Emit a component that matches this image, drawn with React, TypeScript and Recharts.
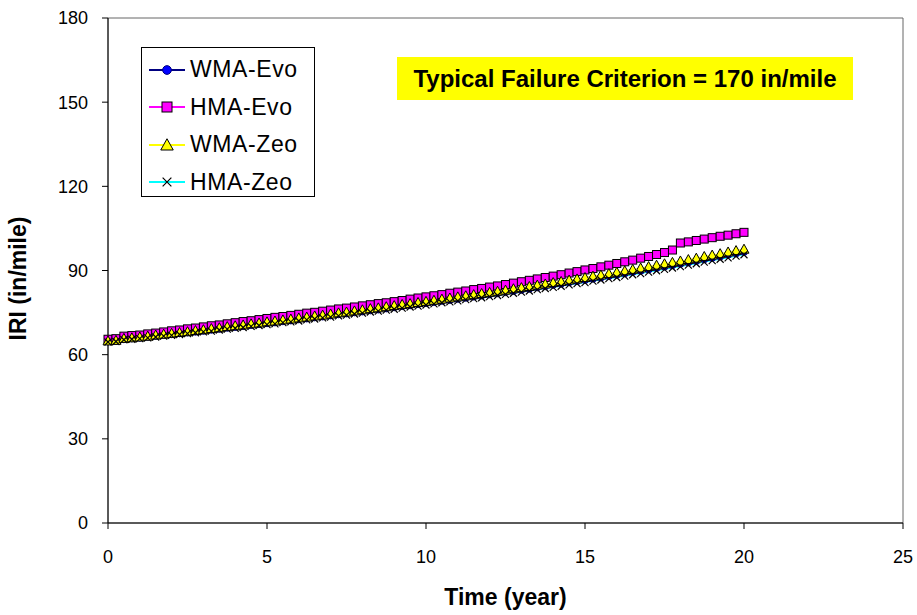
import React from 'react';
import { LineChart, Line, XAxis, YAxis, ReferenceArea } from 'recharts';

// quarter-year steps, 0 to 20 years
const time = Array.from({ length: 81 }, (_, i) => i * 0.25);

const wmaEvo = [
  64.7, 64.9, 65.5, 65.8, 66.0, 66.3, 66.7, 67.0, 67.3, 67.6, 67.9, 68.2,
  68.5, 68.9, 69.2, 69.6, 69.9, 70.2, 70.6, 70.9, 71.2, 71.5, 71.9, 72.2,
  72.6, 72.9, 73.3, 73.6, 74.0, 74.4, 74.7, 75.1, 75.4, 75.8, 76.1, 76.5,
  76.9, 77.3, 77.6, 78.0, 78.4, 78.8, 79.2, 79.5, 79.9, 80.3, 80.7, 81.1,
  81.5, 81.9, 82.3, 82.7, 83.1, 83.5, 84.0, 84.4, 84.9, 85.3, 85.8, 86.2,
  86.6, 87.1, 87.5, 88.0, 88.5, 89.0, 89.5, 89.9, 90.4, 90.9, 91.4, 91.9,
  92.4, 92.9, 93.4, 94.0, 94.5, 95.0, 95.6, 96.1, 96.6,
];

const hmaEvo = [
  65.5, 65.7, 66.6, 66.8, 67.0, 67.4, 67.7, 68.1, 68.5, 68.8, 69.2, 69.5,
  69.9, 70.3, 70.6, 71.0, 71.4, 71.8, 72.1, 72.5, 72.9, 73.3, 73.6, 74.0,
  74.4, 74.8, 75.1, 75.5, 75.9, 76.3, 76.6, 77.0, 77.4, 77.8, 78.2, 78.5,
  78.9, 79.3, 79.8, 80.2, 80.6, 81.0, 81.4, 81.9, 82.3, 82.7, 83.2, 83.6,
  84.1, 84.5, 85.0, 85.5, 86.0, 86.5, 87.0, 87.5, 88.0, 88.5, 89.1, 89.6,
  90.2, 90.7, 91.3, 91.9, 92.5, 93.1, 93.7, 94.4, 95.0, 95.7, 96.4, 97.3,
  99.8, 100.2, 100.7, 101.2, 101.7, 102.2, 102.6, 103.1, 103.6,
];

const wmaZeo = [
  64.9, 65.1, 65.8, 66.0, 66.3, 66.6, 67.0, 67.3, 67.6, 67.9, 68.2, 68.6,
  68.9, 69.3, 69.6, 70.0, 70.3, 70.6, 71.0, 71.3, 71.7, 72.0, 72.4, 72.7,
  73.1, 73.4, 73.8, 74.1, 74.5, 74.9, 75.2, 75.6, 76.0, 76.4, 76.7, 77.1,
  77.5, 77.9, 78.2, 78.6, 79.0, 79.4, 79.8, 80.2, 80.6, 81.0, 81.4, 81.8,
  82.2, 82.6, 83.0, 83.5, 83.9, 84.3, 84.8, 85.2, 85.7, 86.1, 86.6, 87.0,
  87.5, 88.0, 88.4, 88.9, 89.4, 89.9, 90.4, 90.9, 91.4, 91.9, 92.4, 92.9,
  93.4, 93.9, 94.4, 95.0, 95.5, 96.0, 96.6, 97.1, 97.6,
];

const hmaZeo = [
  64.5, 64.7, 65.3, 65.5, 65.7, 66.0, 66.3, 66.6, 66.9, 67.2, 67.5, 67.8,
  68.1, 68.4, 68.8, 69.1, 69.4, 69.7, 70.1, 70.4, 70.7, 71.0, 71.4, 71.7,
  72.0, 72.4, 72.7, 73.1, 73.4, 73.8, 74.1, 74.5, 74.8, 75.2, 75.5, 75.9,
  76.2, 76.6, 77.0, 77.3, 77.7, 78.1, 78.5, 78.8, 79.2, 79.6, 80.0, 80.3,
  80.7, 81.1, 81.5, 81.9, 82.3, 82.7, 83.2, 83.6, 84.0, 84.4, 84.9, 85.3,
  85.7, 86.2, 86.6, 87.1, 87.5, 88.0, 88.5, 88.9, 89.4, 89.9, 90.4, 90.9,
  91.4, 91.9, 92.4, 93.0, 93.5, 94.0, 94.5, 95.1, 95.6,
];

const xTicks = [0, 5, 10, 15, 20, 25];
const yTicks = [0, 30, 60, 90, 120, 150, 180];

const data = time.map((t, i) => ({
  t,
  wmaEvo: wmaEvo[i],
  hmaEvo: hmaEvo[i],
  wmaZeo: wmaZeo[i],
  hmaZeo: hmaZeo[i],
}));

const FONT = '"Liberation Sans", Arial, sans-serif';

const Circle = ({ cx, cy, s = 1 }: any) => (
  <circle cx={cx} cy={cy} r={3.5 * s} fill="#0000ff" stroke="#000080" strokeWidth={1} />
);
const Square = ({ cx, cy, s = 1 }: any) => (
  <rect x={cx - 4 * s} y={cy - 4 * s} width={8 * s} height={8 * s} fill="#ff00ff" stroke="#000" strokeWidth={1} />
);
const Triangle = ({ cx, cy, s = 1 }: any) => (
  <path
    d={`M${cx},${cy - 5 * s}L${cx + 5 * s},${cy + 4 * s}L${cx - 5 * s},${cy + 4 * s}Z`}
    fill="#ffff00"
    stroke="#000"
    strokeWidth={1}
  />
);
const Cross = ({ cx, cy, s = 1 }: any) => (
  <path
    d={`M${cx - 3.5 * s},${cy - 3.5 * s}L${cx + 3.5 * s},${cy + 3.5 * s}M${cx + 3.5 * s},${cy - 3.5 * s}L${cx - 3.5 * s},${cy + 3.5 * s}`}
    stroke="#000"
    strokeWidth={1.2}
  />
);

const series = [
  { key: 'wmaEvo', name: 'WMA-Evo', color: '#000080', Dot: Circle },
  { key: 'hmaEvo', name: 'HMA-Evo', color: '#ff00ff', Dot: Square },
  { key: 'wmaZeo', name: 'WMA-Zeo', color: '#ffff00', Dot: Triangle },
  { key: 'hmaZeo', name: 'HMA-Zeo', color: '#00ffff', Dot: Cross },
];

const LegendBox = () => (
  <div
    style={{
      position: 'absolute',
      left: 141,
      top: 47,
      border: '1px solid #000',
      width: 174,
      height: 150,
      background: '#fff',
      boxSizing: 'border-box',
      paddingTop: 3,
      fontFamily: FONT,
    }}
  >
    {series.map((s) => (
      <div key={s.key} style={{ display: 'flex', alignItems: 'center', height: 37.5 }}>
        <svg width={42} height={20} style={{ marginLeft: 6, flex: 'none' }}>
          <line x1={1} y1={10} x2={37} y2={10} stroke={s.color} strokeWidth={2} />
          <s.Dot cx={19} cy={10} s={1.25} />
        </svg>
        <span style={{ fontSize: 23, color: '#000', letterSpacing: 0.6, whiteSpace: 'nowrap' }}>{s.name}</span>
      </div>
    ))}
  </div>
);

export default function App() {
  return (
    <div style={{ position: 'absolute', left: 0, top: 0, width: 917, height: 615, background: '#fff' }}>
      <LineChart
        width={917}
        height={615}
        data={data}
        margin={{ top: 18, right: 14, bottom: 48, left: 48 }}
      >
        <XAxis
          dataKey="t"
          type="number"
          domain={[0, 25]}
          ticks={xTicks}
          height={44}
          stroke="#000"
          tickSize={6}
          tickMargin={21}
          tick={{ fill: '#000', fontSize: 18, fontFamily: '"Liberation Sans Narrow", "Liberation Sans", Arial' }}
          label={{
            value: 'Time (year)',
            position: 'insideBottom',
            offset: -38,
            style: { fill: '#000', fontSize: 23, fontWeight: 'bold', fontFamily: FONT },
          }}
        />
        <YAxis
          domain={[0, 180]}
          ticks={yTicks}
          width={60}
          stroke="#000"
          tickSize={6}
          tickMargin={14}
          tick={{ fill: '#000', fontSize: 18, fontFamily: FONT }}
          label={{
            value: 'IRI (in/mile)',
            angle: -90,
            position: 'insideLeft',
            offset: -30,
            dy: 70,
            style: { fill: '#000', fontSize: 23, fontWeight: 'bold', fontFamily: FONT },
          }}
        />
        <ReferenceArea x1={0} x2={25} y1={0} y2={180} fill="none" stroke="#666" strokeWidth={1} />
        {series.map((s) => (
          <Line
            key={s.key}
            dataKey={s.key}
            name={s.name}
            stroke={s.color}
            strokeWidth={1}
            dot={(p: any) => <s.Dot key={`${s.key}-${p.index}`} cx={p.cx} cy={p.cy} />}
            activeDot={false}
            isAnimationActive={false}
          />
        ))}
      </LineChart>
      <LegendBox />
      <div
        style={{
          position: 'absolute',
          left: 397,
          top: 57,
          width: 456,
          height: 43,
          background: '#ffff00',
          display: 'flex',
          alignItems: 'center',
          justifyContent: 'center',
          fontFamily: FONT,
          fontWeight: 'bold',
          fontSize: 24,
          color: '#000',
          whiteSpace: 'nowrap',
        }}
      >
        Typical Failure Criterion = 170 in/mile
      </div>
    </div>
  );
}
